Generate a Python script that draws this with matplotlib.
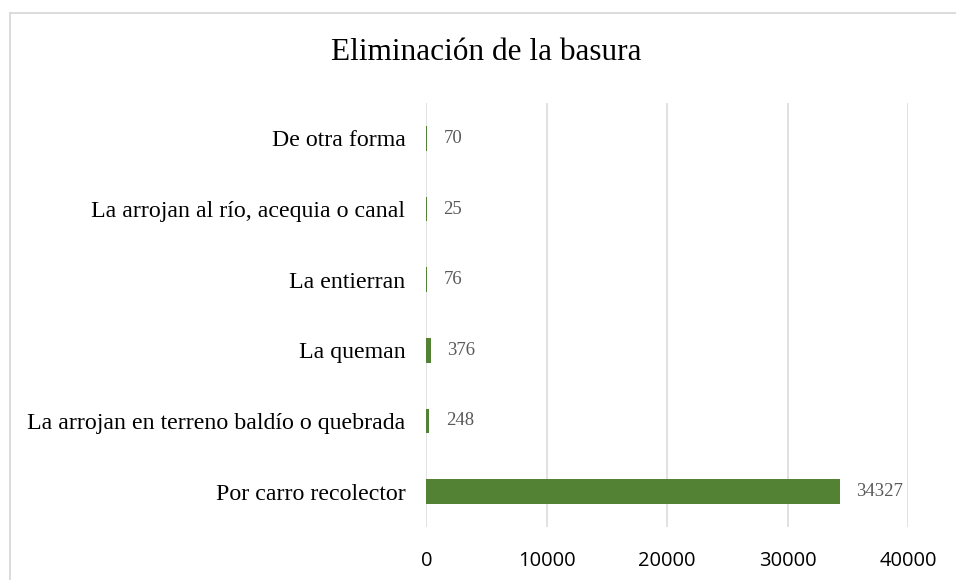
import matplotlib.pyplot as plt
from matplotlib.lines import Line2D

# Data (bottom to top, as drawn)
categories = [
    "Por carro recolector",
    "La arrojan en terreno baldío o quebrada",
    "La queman",
    "La entierran",
    "La arrojan al río, acequia o canal",
    "De otra forma",
]
values = [34327, 248, 376, 76, 25, 70]
x_ticks = [0, 10000, 20000, 30000, 40000]

TITLE = "Eliminación de la basura"
BAR_COLOR = "#548235"
GRID_COLOR = "#d9d9d9"
SERIF = "Liberation Serif"
SANS = "Open Sans"

fig = plt.figure(figsize=(9.56, 5.8), dpi=100)
ax = fig.add_axes([0.4459, 0.0914, 0.5039, 0.731])

# chart border (only left and top visible, rest cropped)
fig.add_artist(Line2D([9.5 / 956, 9.5 / 956], [0, 1 - 13 / 580],
                      transform=fig.transFigure, color=GRID_COLOR, lw=1.3))
fig.add_artist(Line2D([9.5 / 956, 1], [1 - 13 / 580, 1 - 13 / 580],
                      transform=fig.transFigure, color=GRID_COLOR, lw=1.3))

y = range(len(categories))
ax.barh(y, values, height=0.35, color=BAR_COLOR, zorder=3)

for yi, v in zip(y, values):
    ax.annotate(str(v), (v, yi), xytext=(12, 0), textcoords="offset points",
                va="center", ha="left", fontsize=13.5, family=SERIF,
                color="#595959")

ax.set_xlim(0, 40000)
ax.set_ylim(-0.5, len(categories) - 0.5)
ax.set_xticks(x_ticks)
ax.set_xticklabels([str(t) for t in x_ticks], family=SANS, fontsize=14.5)
ax.set_yticks(list(y))
ax.set_yticklabels(categories, family=SERIF, fontsize=17.2)
ax.tick_params(axis="both", length=0)
ax.tick_params(axis="y", pad=15)
ax.tick_params(axis="x", pad=17)

ax.grid(axis="x", color=GRID_COLOR, lw=1.1, zorder=0)
for s in ax.spines.values():
    s.set_visible(False)

fig.text(486 / 956, 1 - 52 / 580, TITLE, ha="center", va="center",
         family=SERIF, fontsize=22.5)

fig.savefig("out.png", dpi=100)
